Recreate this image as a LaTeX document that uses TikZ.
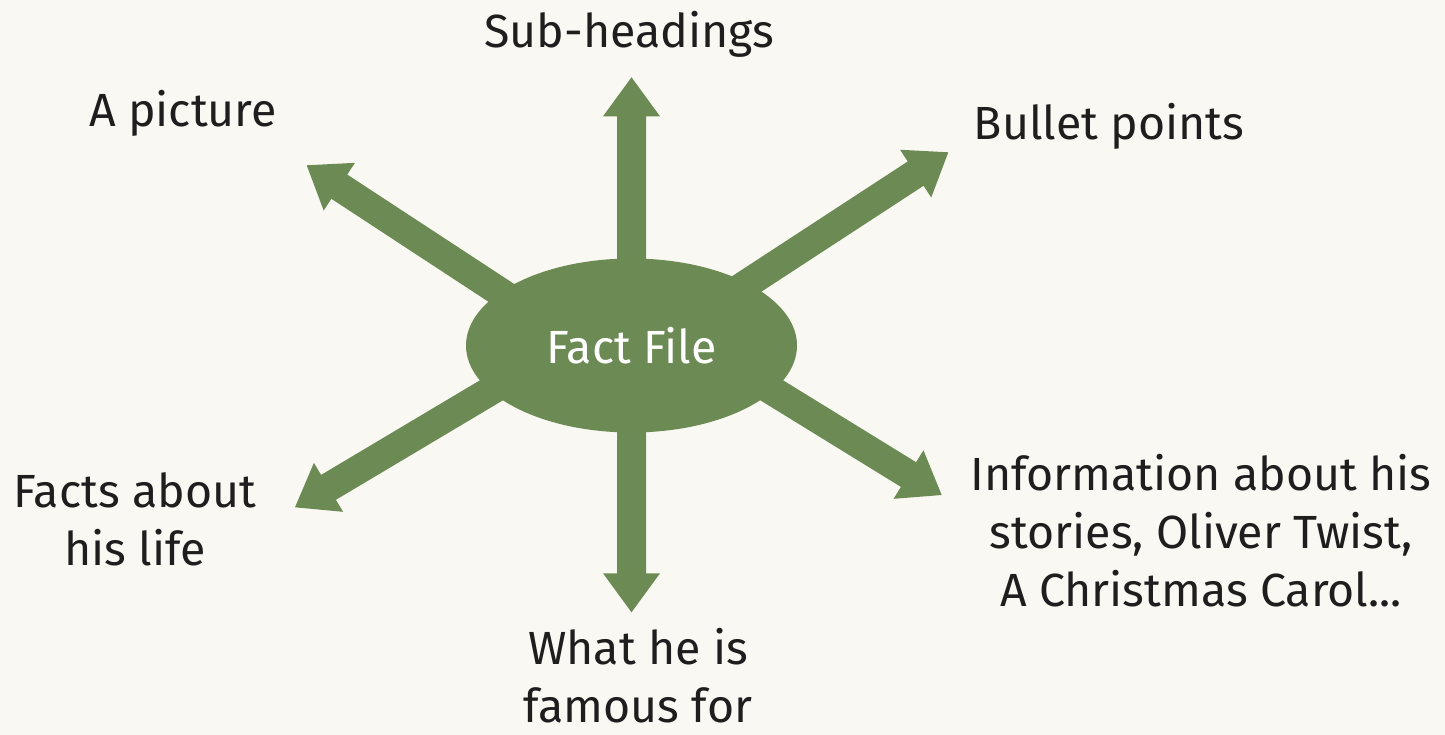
\documentclass[tikz,border=0pt]{standalone}
\usepackage{fontspec}
\setmainfont{Fira Sans}
\usetikzlibrary{calc,shapes.geometric,backgrounds}
\definecolor{arrowgreen}{RGB}{108,139,84}
\definecolor{bgcream}{RGB}{250,248,243}
\definecolor{textcol}{RGB}{30,30,30}
\tikzset{
  lbl/.style={font=\fontsize{46.5}{58}\selectfont, text=textcol, align=center, inner sep=0pt, anchor=base},
  hub/.style={ellipse, fill=arrowgreen, text=white, inner sep=0pt,
    minimum width=331pt, minimum height=174pt, font=\fontsize{46.5}{58}\selectfont},
  fatarrow/.style={fill=arrowgreen}
}
\newcommand\fatarrow[2]{%
  \coordinate (fa0) at ($(#2)!1.3!(#1)$);
  \coordinate (fab) at ($(#2)!39pt!(#1)$);
  \fill[fatarrow] ($(fa0)!14.5pt!90:(#2)$) -- ($(fab)!14.5pt!90:(#2)$)
    -- ($(fab)!28.5pt!90:(#2)$) -- (#2) -- ($(fab)!28.5pt!-90:(#2)$)
    -- ($(fab)!14.5pt!-90:(#2)$) -- ($(fa0)!14.5pt!-90:(#2)$) -- cycle;}
\begin{document}
\begin{tikzpicture}[x=1pt,y=-1pt]
  \useasboundingbox (0,0) rectangle (1445,735);
  % hub
  \node[hub] (ff) at (631.5,345.5) {Fact File};
  % arrow start points on the hub border and tips
  \coordinate (s1) at (631.5,258);   \coordinate (t1) at (631.5,77.3);
  \coordinate (s2) at (631.5,433);   \coordinate (t2) at (631.5,612.3);
  \coordinate (s3) at (500,292);     \coordinate (t3) at (306.7,165.3);
  \coordinate (s4) at (747.7,283.3); \coordinate (t4) at (948.3,152.3);
  \coordinate (s5) at (493.3,389.2); \coordinate (t5) at (295,507.3);
  \coordinate (s6) at (771.7,390.3); \coordinate (t6) at (941.7,495);
  \begin{pgfonlayer}{background}
    \fill[bgcream] (0,0) rectangle (1445,735);
    \fatarrow{s1}{t1}
    \fatarrow{s2}{t2}
    \fatarrow{s3}{t3}
    \fatarrow{s4}{t4}
    \fatarrow{s5}{t5}
    \fatarrow{s6}{t6}
  \end{pgfonlayer}
  % labels (anchor base = baseline of the last line)
  \node[lbl] (sub) at (629.5,47.7) {Sub-headings};
  \node[lbl] (pic) at (183,126.7) {A picture};
  \node[lbl] (bul) at (1109,140) {Bullet points};
  \node[lbl] (facts) at (135,565) {Facts about\\his life};
  \node[lbl] (what) at (638,722) {What he is\\famous for};
  \node[lbl] (info) at (1201,606.7) {Information about his\\stories, Oliver Twist,\\A Christmas Carol...};
\end{tikzpicture}
\end{document}
